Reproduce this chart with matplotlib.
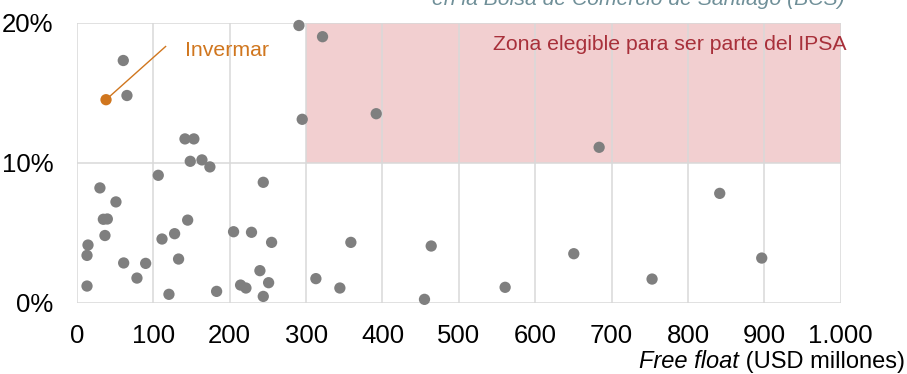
import matplotlib
matplotlib.use("Agg")
import matplotlib.pyplot as plt
from matplotlib.patches import Rectangle


OUTPUT_FILE = "out.png"

# Free float (USD millones) and rotacion (%)
free_float = [
    290.6, 321.5, 60.6, 65.4, 294.9, 391.8, 141.4, 153.0, 148.3, 163.6,
    174.0, 106.4, 243.9, 30.0, 683.7, 51.0, 34.5, 39.7, 144.9, 36.6,
    111.3, 127.8, 205.0, 228.5, 254.8, 358.6, 463.8, 14.4, 13.1, 61.1,
    89.9, 133.0, 78.5, 239.5, 13.1, 120.4, 182.8, 214.2, 221.2, 250.9,
    243.9, 312.8, 344.2, 455.0, 841.6, 650.5, 896.6, 560.6, 753.0,
]
rotacion = [
    19.8, 19.0, 17.3, 14.8, 13.1, 13.5, 11.7, 11.7, 10.1, 10.2,
    9.7, 9.1, 8.6, 8.2, 11.1, 7.2, 5.96, 5.98, 5.9, 4.8,
    4.55, 4.93, 5.07, 5.03, 4.31, 4.31, 4.05, 4.12, 3.38, 2.84,
    2.81, 3.12, 1.76, 2.29, 1.19, 0.6, 0.81, 1.26, 1.05, 1.43,
    0.45, 1.72, 1.05, 0.24, 7.81, 3.5, 3.19, 1.1, 1.69,
]

invermar_x = 38.0
invermar_y = 14.5

zona_x = [300, 1000]
zona_y = [10, 20]

x_ticks = [0, 100, 200, 300, 400, 500, 600, 700, 800, 900, 1000]
x_tick_labels = ["0", "100", "200", "300", "400", "500", "600", "700", "800", "900", "1.000"]
y_ticks = [0, 10, 20]
y_tick_labels = ["0%", "10%", "20%"]

GRAY = "#7F7F7F"
GRID = "#D9D9D9"
PINK = "#F2CFD0"
RED = "#A8303A"
ORANGE = "#D0761E"
TITLE_COLOR = "#6F8F98"


def main():
    plt.rcParams["font.family"] = ["Liberation Sans", "DejaVu Sans"]

    fig = plt.figure(figsize=(9.07, 3.74), dpi=100)
    ax = fig.add_axes([0.0849, 0.1906, 0.8420, 0.7487])

    ax.add_patch(
        Rectangle(
            (zona_x[0], zona_y[0]),
            zona_x[1] - zona_x[0],
            zona_y[1] - zona_y[0],
            facecolor=PINK,
            edgecolor="none",
            zorder=0
        )
    )

    for xv in x_ticks:
        ax.axvline(xv, color=GRID, linewidth=1.1, zorder=1)
    for yv in y_ticks:
        ax.axhline(yv, color=GRID, linewidth=1.1, zorder=1)

    ax.scatter(
        free_float,
        rotacion,
        s=66,
        color=GRAY,
        edgecolors="none",
        zorder=3,
        clip_on=False
    )

    ax.scatter(
        [invermar_x],
        [invermar_y],
        s=66,
        color=ORANGE,
        edgecolors="none",
        zorder=4
    )

    ax.plot(
        [invermar_x, 116],
        [invermar_y, 18.3],
        color=ORANGE,
        linewidth=1.0,
        zorder=4
    )
    ax.text(142, 17.6, "Invermar", color=ORANGE, fontsize=15.3, va="baseline", ha="left")

    ax.text(
        1.0075, 0.9025,
        "Zona elegible para ser parte del IPSA",
        transform=ax.transAxes,
        color=RED,
        fontsize=15.3,
        ha="right",
        va="baseline",
        zorder=5
    )

    ax.set_xlim(0, 1000)
    ax.set_ylim(0, 20)

    ax.set_xticks(x_ticks)
    ax.set_xticklabels(x_tick_labels)
    ax.set_yticks(y_ticks)
    ax.set_yticklabels(y_tick_labels)

    ax.tick_params(axis="both", length=0, labelsize=18.5, colors="black")
    ax.tick_params(axis="x", pad=15)
    ax.tick_params(axis="y", pad=17)

    for spine in ax.spines.values():
        spine.set_visible(False)

    # x axis label: italic part + normal part, right aligned
    label_y = 1 - 362 / 374
    normal_part = fig.text(
        905 / 907, label_y,
        " (USD millones)",
        fontsize=17,
        ha="right",
        va="center"
    )
    fig.canvas.draw()
    bbox = normal_part.get_window_extent()
    fig.text(
        bbox.x0 / fig.bbox.width, label_y,
        "Free float",
        fontsize=17,
        style="italic",
        ha="right",
        va="center"
    )

    fig.text(
        845 / 907, 1 - 5 / 374,
        "en la Bolsa de Comercio de Santiago (BCS)",
        fontsize=15.2,
        style="italic",
        color=TITLE_COLOR,
        ha="right",
        va="baseline"
    )

    fig.savefig(OUTPUT_FILE, dpi=100)
    plt.close(fig)


if __name__ == "__main__":
    main()
